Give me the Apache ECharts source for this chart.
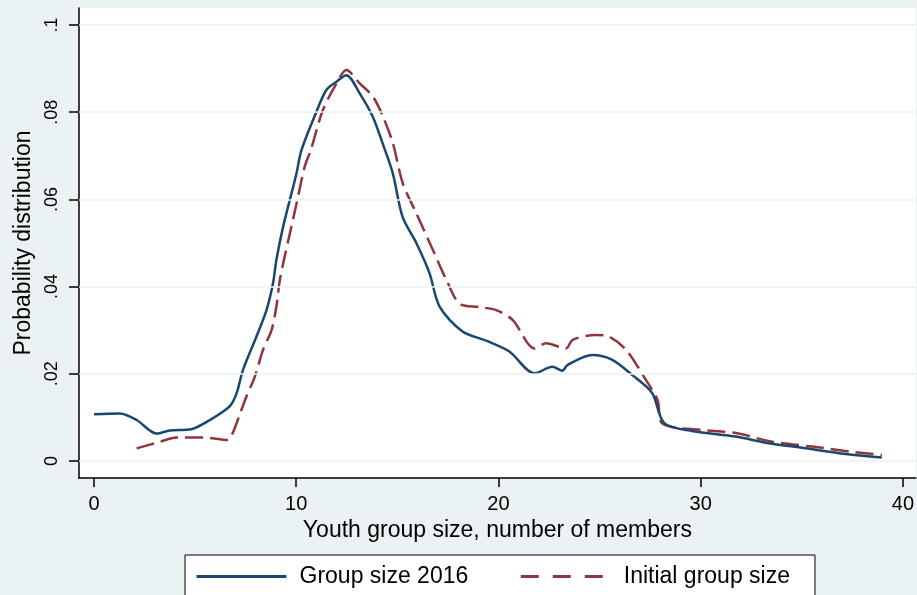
<!DOCTYPE html>
<html>
<head>
<meta charset="utf-8">
<script src="https://cdn.jsdelivr.net/npm/echarts@6/dist/echarts.min.js"></script>
<style>
  html, body { margin: 0; padding: 0; background: #EAF2F3; }
  #chart { width: 917px; height: 595px; }
</style>
</head>
<body>
<div id="chart"></div>
<script>
// x = group size, y = density
var size2016X = [0, 1.28, 2.11, 3.1, 3.75, 4.82, 5.73, 6.72, 7.05, 7.37, 8.03, 8.53, 8.85, 9.02, 9.35, 9.68, 10.01, 10.26, 11.0, 11.49, 11.99, 12.48, 13.14, 13.78, 14.27, 14.77, 15.26, 15.94, 16.59, 17.09, 18.22, 19.39, 20.54, 21.78, 22.67, 23.16, 23.41, 24.64, 25.63, 26.62, 27.6, 28.2, 29.58, 31.74, 33.22, 35.2, 37.17, 38.96];
var size2016Y = [0.0107, 0.0109, 0.0094, 0.0063, 0.0070, 0.0073, 0.0094, 0.0126, 0.0155, 0.0209, 0.0285, 0.0346, 0.0407, 0.0461, 0.0537, 0.0598, 0.0659, 0.0713, 0.0801, 0.0851, 0.0870, 0.0885, 0.0843, 0.0790, 0.0729, 0.0661, 0.0560, 0.0500, 0.0431, 0.0354, 0.0297, 0.0276, 0.0251, 0.0201, 0.0216, 0.0207, 0.0220, 0.0243, 0.0232, 0.0197, 0.0156, 0.0087, 0.0069, 0.0056, 0.0042, 0.0029, 0.0016, 0.0008];

var initialX = [2.11, 3.26, 4.08, 5.38, 6.62, 6.86, 7.29, 7.54, 7.95, 8.36, 8.78, 9.02, 9.19, 9.43, 9.76, 10.09, 10.42, 10.72, 11.32, 11.99, 12.48, 13.14, 13.79, 14.29, 14.78, 15.27, 15.94, 16.76, 17.43, 18.1, 19.06, 19.89, 20.71, 21.78, 22.36, 23.34, 23.67, 24.82, 25.48, 26.31, 27.29, 27.87, 28.11, 30.07, 31.74, 33.55, 35.52, 37.5, 38.96];
var initialY = [0.0029, 0.0044, 0.0054, 0.0054, 0.0048, 0.0064, 0.0117, 0.0148, 0.0193, 0.0255, 0.0300, 0.0354, 0.0415, 0.0469, 0.0537, 0.0606, 0.0675, 0.0713, 0.0805, 0.0866, 0.0897, 0.0866, 0.0836, 0.0790, 0.0729, 0.0637, 0.0568, 0.0484, 0.0415, 0.0360, 0.0353, 0.0346, 0.0323, 0.0258, 0.0270, 0.0258, 0.0278, 0.0289, 0.0285, 0.0255, 0.0186, 0.0140, 0.0086, 0.0071, 0.0064, 0.0044, 0.0033, 0.0021, 0.0014];

var xTicks = [0, 10, 20, 30, 40];
var yTicks = [0, 0.02, 0.04, 0.06, 0.08, 0.1];
var seriesNames = ['Group size 2016', 'Initial group size'];

function pairs(xs, ys) {
    var out = [];
    for (var i = 0; i < xs.length; i++) out.push([xs[i], ys[i]]);
    return out;
}

var myChart = echarts.init(document.getElementById('chart'), null, { renderer: 'canvas' });

var font = 'Liberation Sans, Arial, sans-serif';
var blue = '#1A476F', red = '#90353B';

var option = {
    backgroundColor: '#EAF2F3',
    animation: false,
    grid: {
        left: 79, top: 8, right: 0, bottom: 117,
        show: true, backgroundColor: '#ffffff', borderWidth: 0
    },
    legend: {
        data: [
            { name: seriesNames[0], lineStyle: { color: blue, width: 3, type: 'solid' } },
            { name: seriesNames[1], lineStyle: { color: red, width: 3, type: [18, 14] } }
        ],
        left: 185, top: 555,
        padding: [10, 25, 20, 10],
        itemWidth: 90, itemHeight: 14, itemGap: 51,
        itemStyle: { opacity: 0 },
        backgroundColor: '#ffffff',
        borderColor: '#000000', borderWidth: 1,
        textStyle: { fontFamily: font, fontSize: 23, color: '#000', padding: [0, 0, 0, 8] }
    },
    xAxis: {
        type: 'value',
        min: -0.741, max: 40.64,
        name: 'Youth group size, number of members',
        nameLocation: 'middle', nameGap: 39,
        nameTextStyle: { fontFamily: font, fontSize: 23, color: '#000' },
        axisLine: { show: true, onZero: false, lineStyle: { color: '#000', width: 1.5 } },
        axisTick: { show: true, length: 9, lineStyle: { color: '#000', width: 1.5 }, customValues: xTicks },
        axisLabel: { fontFamily: font, fontSize: 20, color: '#000', margin: 16, customValues: xTicks },
        splitLine: { show: false }
    },
    yAxis: {
        type: 'value',
        min: -0.0039, max: 0.1039,
        name: 'Probability distribution',
        nameLocation: 'middle', nameGap: 44,
        nameTextStyle: { fontFamily: font, fontSize: 23, color: '#000' },
        axisLine: { show: true, onZero: false, lineStyle: { color: '#000', width: 1.5 } },
        axisTick: { show: true, length: 10, lineStyle: { color: '#000', width: 1.5 }, customValues: yTicks },
        axisLabel: {
            fontFamily: font, fontSize: 18, color: '#000', margin: 18, rotate: 90,
            customValues: yTicks,
            formatter: function (v) {
                if (Math.abs(v) < 1e-9) return '0';
                return String(+v.toFixed(2)).replace(/^0/, '');
            }
        },
        splitLine: { show: false }
    },
    series: [{
        name: seriesNames[0],
        type: 'line',
        data: pairs(size2016X, size2016Y),
        symbol: 'none',
        smooth: 0.3,
        color: blue,
        lineStyle: { color: blue, width: 2.5 },
        markLine: {
            silent: true, symbol: ['none', 'none'], label: { show: false },
            lineStyle: { color: '#EAF2F3', width: 1.5, type: 'solid' },
            data: yTicks.map(function (v) { return { yAxis: v }; })
        },
        z: 3
    }, {
        name: seriesNames[1],
        type: 'line',
        data: pairs(initialX, initialY),
        symbol: 'none',
        smooth: 0.3,
        color: red,
        lineStyle: { color: red, width: 2.5, type: [18, 7] },
        z: 2
    }]
};

myChart.setOption(option);
</script>
</body>
</html>
